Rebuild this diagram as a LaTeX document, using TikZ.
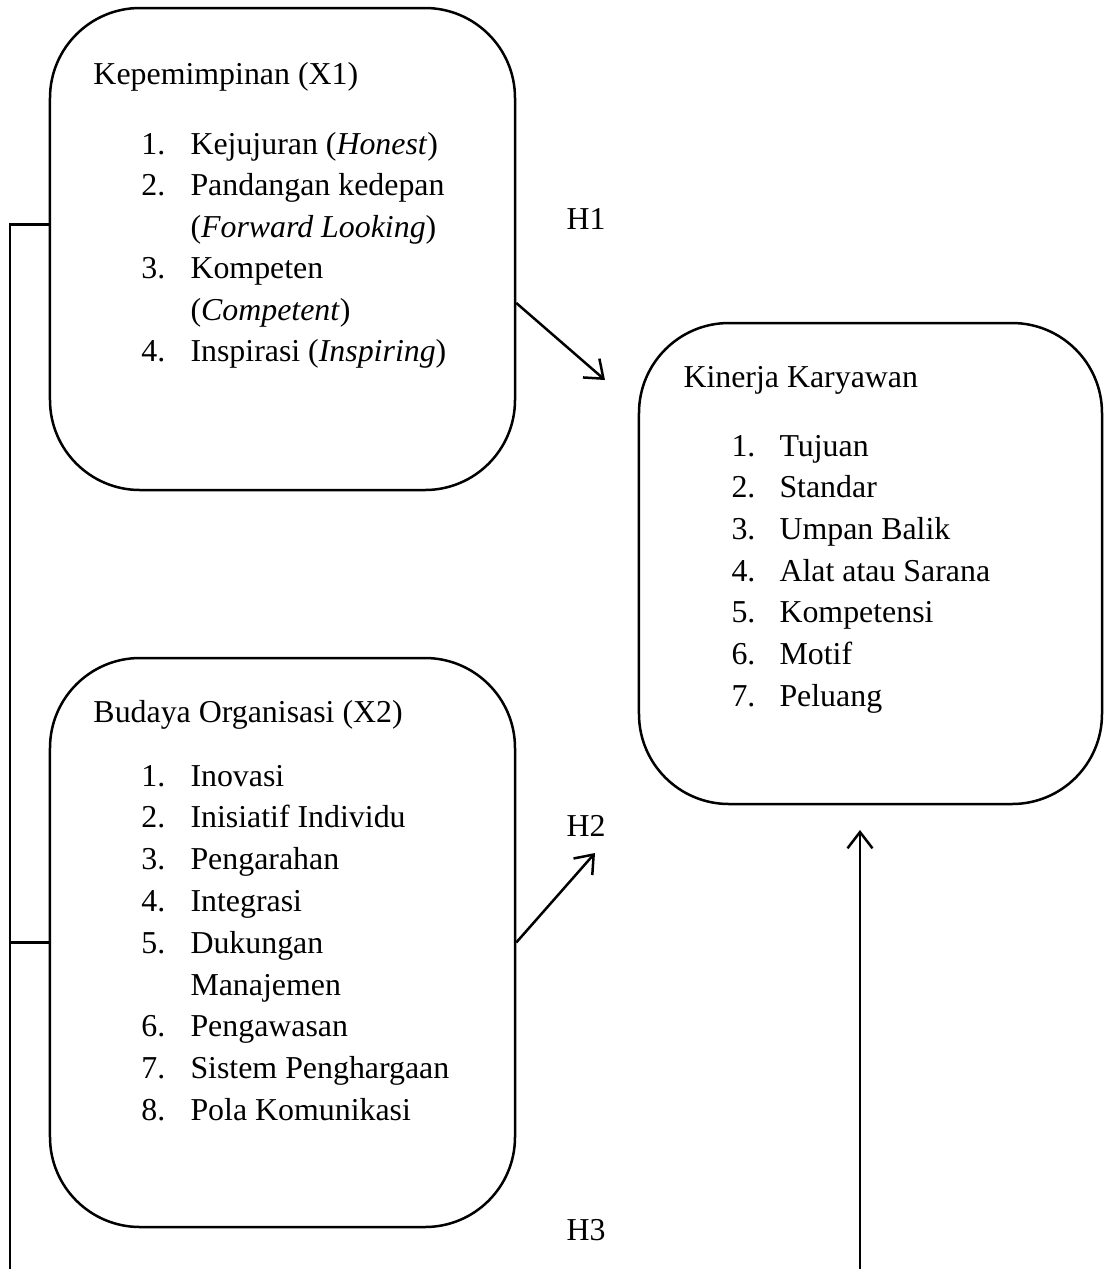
\documentclass[tikz,border=0pt]{standalone}
\usepackage{fontspec}
\setmainfont{Liberation Serif}
\usetikzlibrary{arrows.meta}
\tikzset{
  varbox/.style={draw, rounded corners=36pt, line width=1pt, inner sep=0pt},
  txt/.style={anchor=base west, inner sep=0pt, font=\fontsize{12.75}{15}\selectfont},
  line/.style={line width=1pt},
  arrow/.style={line width=1pt, -{Straight Barb[length=6.5pt,width=10pt,line width=1pt]}}
}

\begin{document}
\begin{tikzpicture}[x=0.4pt,y=-0.4pt]
  \useasboundingbox (0,0) rectangle (1104,1269);
  % variable boxes
  \node[varbox, minimum width=186pt, minimum height=192.8pt] (kep) at (282.5,249) {};
  \node[varbox, minimum width=186pt, minimum height=227.6pt] (bud) at (282.5,942.5) {};
  \node[varbox, minimum width=185.2pt, minimum height=192.4pt] (kin) at (870.5,563.5) {};
  % X1
  \node[txt] (kep-title) at (93,84) {Kepemimpinan (X1)};
  \foreach \n/\t [count=\i] in {1./Kejujuran (\textit{Honest}), 2./Pandangan kedepan,
      {}/(\textit{Forward Looking}), 3./Kompeten, {}/(\textit{Competent}), 4./Inspirasi (\textit{Inspiring})}
  {
    \node[txt] (kep-n\i) at (141,{154+41.5*(\i-1)}) {\n};
    \node[txt] (kep-i\i) at (190,{154+41.5*(\i-1)}) {\t};
  }
  % X2
  \node[txt] (bud-title) at (93,722) {Budaya Organisasi (X2)};
  \foreach \n/\t [count=\i] in {1./Inovasi, 2./Inisiatif Individu, 3./Pengarahan, 4./Integrasi,
      5./Dukungan, {}/Manajemen, 6./Pengawasan, 7./Sistem Penghargaan, 8./Pola Komunikasi}
  {
    \node[txt] (bud-n\i) at (141,{786+41.8*(\i-1)}) {\n};
    \node[txt] (bud-i\i) at (190,{786+41.8*(\i-1)}) {\t};
  }
  % Y
  \node[txt] (kin-title) at (683,387) {Kinerja Karyawan};
  \foreach \n/\t [count=\i] in {1./Tujuan, 2./Standar, 3./Umpan Balik, 4./Alat atau Sarana,
      5./Kompetensi, 6./Motif, 7./Peluang}
  {
    \node[txt] (kin-n\i) at (731,{456+41.7*(\i-1)}) {\n};
    \node[txt] (kin-i\i) at (779,{456+41.7*(\i-1)}) {\t};
  }
  % hypotheses
  \node[txt] (h1) at (566,229) {H1};
  \node[txt] (h2) at (566,836) {H2};
  \node[txt] (h3) at (566,1240) {H3};
  \coordinate (h1tip) at (605,380);
  \coordinate (h2tip) at (595,853);
  \coordinate (h3tip) at (860,830);
  \coordinate (h3foot) at (860,1269);
  \coordinate (leftfoot) at (10,1269);
  \draw[arrow] (kep.-13.5) -- (h1tip);
  \draw[arrow] (bud.east) -- (h2tip);
  \draw[arrow] (h3foot) -- (h3tip);
  \draw[line] (kep.174) -| (leftfoot);
  \draw[line] (bud.west) -- (bud.west -| leftfoot);
\end{tikzpicture}
\end{document}
